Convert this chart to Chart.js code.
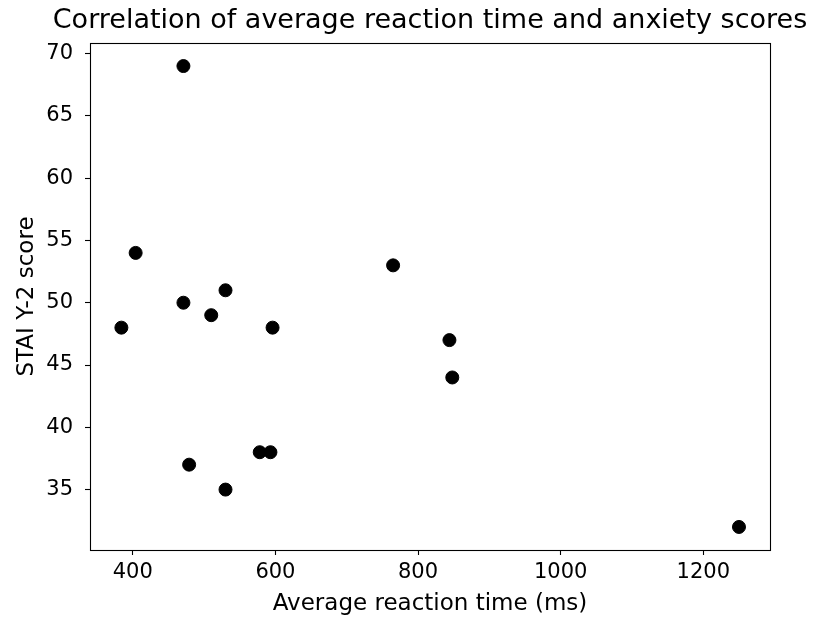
<!DOCTYPE html>
<html>
<head>
<meta charset="utf-8">
<script src="https://cdn.jsdelivr.net/npm/chart.js@4.4.1/dist/chart.umd.min.js"></script>
<style>
html,body{margin:0;padding:0;background:#fff;}
#wrap{width:818px;height:621px;position:relative;}
</style>
</head>
<body>
<div id="wrap"><canvas id="c" width="818" height="621"></canvas></div>
<script>
// Data
const reactionTimes = [471, 404, 765, 530, 471, 510, 384, 596, 479, 530, 578, 593, 844, 848, 1250];
const staiScores    = [69,  54,  53,  51,  50,  49,  48,  48,  37,  35,  38,  38,  47,  44,  32];
const xTickValues = [400, 600, 800, 1000, 1200];
const yTickValues = [35, 40, 45, 50, 55, 60, 65, 70];
const titleText = 'Correlation of average reaction time and anxiety scores';
const xLabel = 'Average reaction time (ms)';
const yLabel = 'STAI Y-2 score';

const points = reactionTimes.map((x, i) => ({x: x, y: staiScores[i]}));
const FONT = 'DejaVu Sans';

const frameAndTitle = {
  id: 'frameAndTitle',
  afterDraw(chart) {
    const {ctx, chartArea: a} = chart;
    ctx.save();
    ctx.strokeStyle = '#000';
    ctx.lineWidth = 1.1;
    ctx.strokeRect(Math.round(a.left) + 0.5, Math.round(a.top) + 0.5,
                   Math.round(a.right - a.left), Math.round(a.bottom - a.top));
    ctx.fillStyle = '#000';
    ctx.font = '27px "' + FONT + '"';
    ctx.textAlign = 'center';
    ctx.textBaseline = 'middle';
    ctx.fillText(titleText, (a.left + a.right) / 2, 21);
    ctx.restore();
  }
};

new Chart(document.getElementById('c'), {
  type: 'scatter',
  data: {
    datasets: [{
      data: points,
      backgroundColor: '#000',
      borderColor: '#000',
      borderWidth: 1,
      pointRadius: 6.5,
      pointHoverRadius: 6.5
    }]
  },
  options: {
    responsive: false,
    animation: false,
    devicePixelRatio: 1,
    layout: {padding: {top: 43, right: 48, left: 0, bottom: 0}},
    plugins: {legend: {display: false}, tooltip: {enabled: false}, title: {display: false}},
    scales: {
      x: {
        type: 'linear',
        min: 340, max: 1293.5,
        afterBuildTicks: s => { s.ticks = xTickValues.map(v => ({value: v})); },
        afterFit: s => { s.height = 71; },
        border: {display: false},
        grid: {display: true, drawOnChartArea: false, drawTicks: true, tickLength: 5, tickColor: '#000', tickWidth: 1.1},
        ticks: {color: '#000', font: {family: FONT, size: 21}, padding: 5, maxRotation: 0, autoSkip: false,
                callback: v => String(v)},
        title: {display: true, text: xLabel, color: '#000', font: {family: FONT, size: 23}, padding: {top: 0, bottom: 3}}
      },
      y: {
        type: 'linear',
        min: 30.15, max: 70.85,
        afterBuildTicks: s => { s.ticks = yTickValues.map(v => ({value: v})); },
        afterFit: s => { s.width = 90; },
        border: {display: false},
        grid: {display: true, drawOnChartArea: false, drawTicks: true, tickLength: 5, tickColor: '#000', tickWidth: 1.1},
        ticks: {color: '#000', font: {family: FONT, size: 21}, padding: 12, autoSkip: false,
                callback: v => String(v)},
        title: {display: true, text: yLabel, color: '#000', font: {family: FONT, size: 23}, padding: {top: 13, bottom: 0}}
      }
    }
  },
  plugins: [frameAndTitle]
});
</script>
</body>
</html>
